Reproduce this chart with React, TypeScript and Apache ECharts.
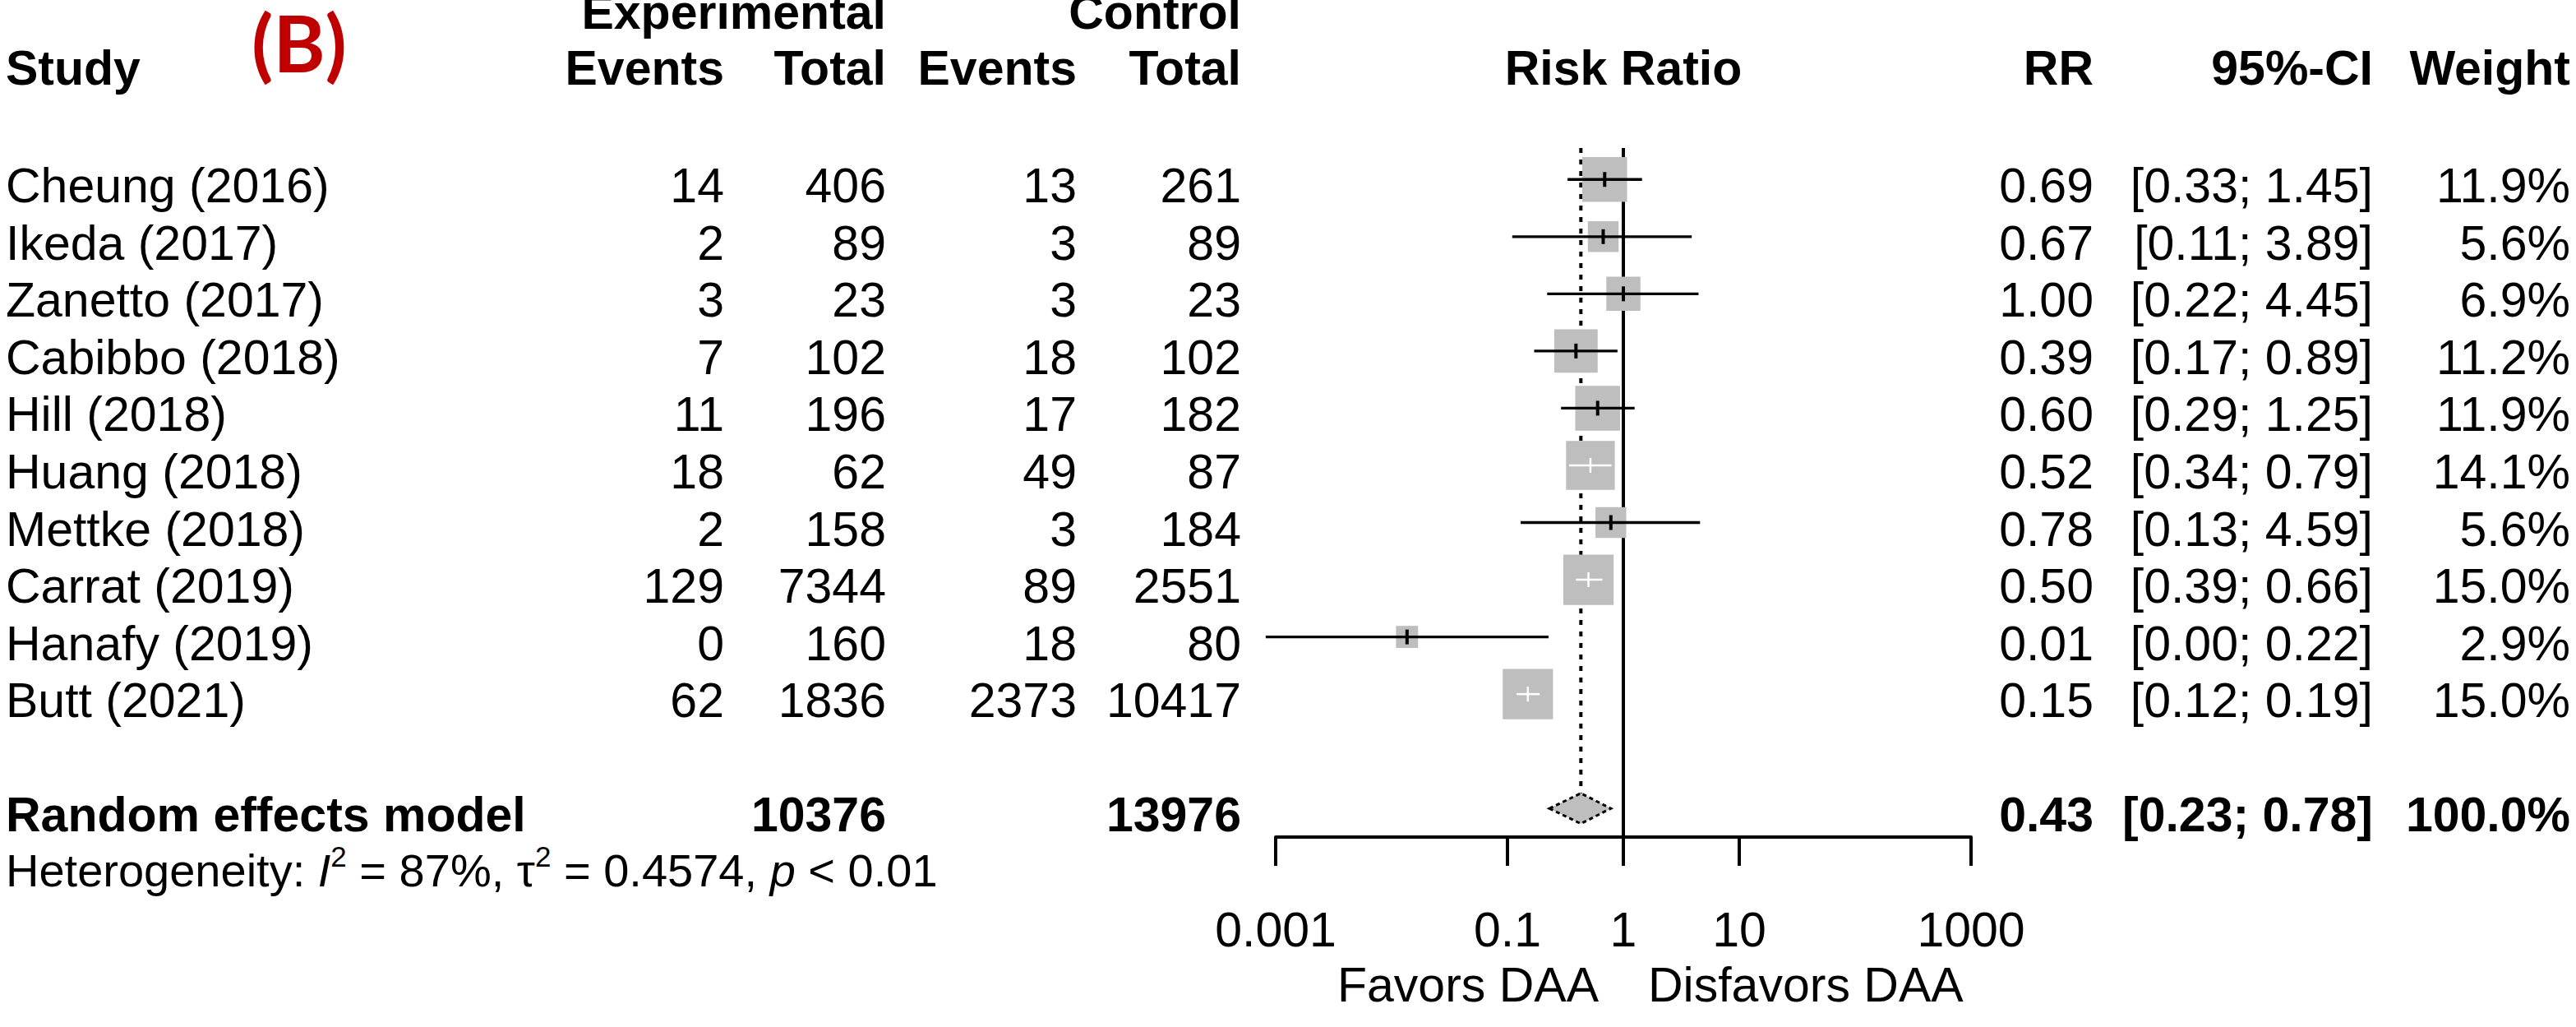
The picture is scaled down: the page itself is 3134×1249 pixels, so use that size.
import React, { useEffect, useRef } from 'react';
import * as echarts from 'echarts';

// ---------------- data ----------------
const studies = [
  'Cheung (2016)', 'Ikeda (2017)', 'Zanetto (2017)', 'Cabibbo (2018)', 'Hill (2018)',
  'Huang (2018)', 'Mettke (2018)', 'Carrat (2019)', 'Hanafy (2019)', 'Butt (2021)',
];
const expEvents = [14, 2, 3, 7, 11, 18, 2, 129, 0, 62];
const expTotal = [406, 89, 23, 102, 196, 62, 158, 7344, 160, 1836];
const ctrlEvents = [13, 3, 3, 18, 17, 49, 3, 89, 18, 2373];
const ctrlTotal = [261, 89, 23, 102, 182, 87, 184, 2551, 80, 10417];
const rrText = ['0.69', '0.67', '1.00', '0.39', '0.60', '0.52', '0.78', '0.50', '0.01', '0.15'];
const ciText = [
  '[0.33; 1.45]', '[0.11; 3.89]', '[0.22; 4.45]', '[0.17; 0.89]', '[0.29; 1.25]',
  '[0.34; 0.79]', '[0.13; 4.59]', '[0.39; 0.66]', '[0.00; 0.22]', '[0.12; 0.19]',
];
const weightText = ['11.9%', '5.6%', '6.9%', '11.2%', '11.9%', '14.1%', '5.6%', '15.0%', '2.9%', '15.0%'];

// plotted estimates
const rr = [0.69, 0.67, 1.0, 0.39, 0.6, 0.52, 0.78, 0.5, 0.0136, 0.15];
const lower = [0.33, 0.11, 0.22, 0.17, 0.29, 0.34, 0.13, 0.39, 0.00082, 0.12];
const upper = [1.45, 3.89, 4.45, 0.89, 1.25, 0.79, 4.59, 0.66, 0.226, 0.19];
const weights = [11.9, 5.6, 6.9, 11.2, 11.9, 14.1, 5.6, 15.0, 2.9, 15.0];

const pooled = { label: 'Random effects model', expTotal: '10376', ctrlTotal: '13976', rr: 0.43, lo: 0.23, hi: 0.78, rrText: '0.43', ciText: '[0.23; 0.78]', weight: '100.0%' };
const het = { i2: '87%', tau2: '0.4574', p: '< 0.01' };

const tickValues = [0.001, 0.1, 1, 10, 1000];
const tickLabels = ['0.001', '0.1', '1', '10', '1000'];
const refValue = 1;
const favorsLeft = 'Favors DAA';
const favorsRight = 'Disfavors DAA';

// ---------------- layout / style ----------------
const FONT = '"Liberation Sans", Arial, Helvetica, sans-serif';
const FS = 59;
const FS_HET = 56;
const COL = { study: 7, expEv: 881, expTot: 1078, ctrlEv: 1310, ctrlTot: 1510, rr: 2547, ci: 2887, w: 3127 };
const SUMMARY_ROW = 11;
const SQUARE_SCALE = 15.8;
const GREY = '#BEBEBE';

type Cell = { text: string; x: number | 'plot'; align: 'left' | 'right' | 'center'; bold?: boolean; rich?: boolean };
type Row = { row: number; cells: Cell[]; fs?: number };

const tableRows: Row[] = [];
tableRows.push({
  row: -3.04,
  cells: [
    { text: 'Experimental', x: COL.expTot, align: 'right', bold: true },
    { text: 'Control', x: COL.ctrlTot, align: 'right', bold: true },
  ],
});
tableRows.push({
  row: -2.06,
  cells: [
    { text: 'Study', x: COL.study, align: 'left', bold: true },
    { text: 'Events', x: COL.expEv, align: 'right', bold: true },
    { text: 'Total', x: COL.expTot, align: 'right', bold: true },
    { text: 'Events', x: COL.ctrlEv, align: 'right', bold: true },
    { text: 'Total', x: COL.ctrlTot, align: 'right', bold: true },
    { text: 'Risk Ratio', x: 'plot', align: 'center', bold: true },
    { text: 'RR', x: COL.rr, align: 'right', bold: true },
    { text: '95%-CI', x: COL.ci, align: 'right', bold: true },
    { text: 'Weight', x: COL.w, align: 'right', bold: true },
  ],
});
studies.forEach((s, i) => {
  tableRows.push({
    row: i,
    cells: [
      { text: s, x: COL.study, align: 'left' },
      { text: String(expEvents[i]), x: COL.expEv, align: 'right' },
      { text: String(expTotal[i]), x: COL.expTot, align: 'right' },
      { text: String(ctrlEvents[i]), x: COL.ctrlEv, align: 'right' },
      { text: String(ctrlTotal[i]), x: COL.ctrlTot, align: 'right' },
      { text: rrText[i], x: COL.rr, align: 'right' },
      { text: ciText[i], x: COL.ci, align: 'right' },
      { text: weightText[i], x: COL.w, align: 'right' },
    ],
  });
});
tableRows.push({
  row: SUMMARY_ROW,
  cells: [
    { text: pooled.label, x: COL.study, align: 'left', bold: true },
    { text: pooled.expTotal, x: COL.expTot, align: 'right', bold: true },
    { text: pooled.ctrlTotal, x: COL.ctrlTot, align: 'right', bold: true },
    { text: pooled.rrText, x: COL.rr, align: 'right', bold: true },
    { text: pooled.ciText, x: COL.ci, align: 'right', bold: true },
    { text: pooled.weight, x: COL.w, align: 'right', bold: true },
  ],
});
tableRows.push({
  row: 11.97,
  fs: FS_HET,
  cells: [
    {
      text:
        '{a|Heterogeneity: }{i|I}{s|2}{a| = ' + het.i2 + ', \u03c4}{s|2}{a| = ' + het.tau2 + ', }{i|p}{a| ' + het.p + '}',
      x: COL.study,
      align: 'left',
      rich: true,
    },
  ],
});

export default function App() {
  const ref = useRef<HTMLDivElement>(null);
  useEffect(() => {
    document.body.style.margin = '0';
    if (!ref.current) return;
    const chart = echarts.init(ref.current, undefined, { renderer: 'svg' });

    const option: any = {
      animation: false,
      backgroundColor: '#ffffff',
      grid: { left: 1552, width: 846, top: 180, height: 838 },
      xAxis: {
        type: 'log',
        logBase: 10,
        min: 0.001,
        max: 1000,
        splitLine: { show: false },
        axisLine: { show: true, onZero: false, lineStyle: { color: '#000', width: 4 } },
        axisTick: { show: true, length: 35, customValues: tickValues, lineStyle: { color: '#000', width: 4 } },
        axisLabel: {
          show: true,
          customValues: tickValues,
          margin: 113,
          verticalAlign: 'middle',
          color: '#000',
          fontSize: FS,
          fontFamily: FONT,
          formatter: (v: number) => {
            let best = 0;
            tickValues.forEach((t, k) => {
              if (Math.abs(Math.log10(t) - Math.log10(v)) < Math.abs(Math.log10(tickValues[best]) - Math.log10(v))) best = k;
            });
            return tickLabels[best];
          },
        },
      },
      yAxis: { type: 'value', inverse: true, min: -0.55, max: 11.5, show: false },
      graphic: [
        {
          type: 'text',
          x: 364,
          y: 50,
          style: {
            text: '(B)',
            fill: '#C00000',
            fontSize: 96,
            fontWeight: 'bold',
            fontFamily: 'Lato, "Open Sans", sans-serif',
            align: 'center',
            verticalAlign: 'middle',
          },
        },
      ],
      series: [
        // reference lines + direction labels
        {
          type: 'custom',
          z: 1,
          data: [[refValue, 0, 0], [pooled.rr, 0, 1]],
          renderItem: (params: any, api: any) => {
            const kind = params.dataIndex;
            const v = kind === 0 ? refValue : pooled.rr;
            const x = api.coord([v, 0])[0];
            const top = api.coord([v, -0.55])[1];
            if (kind === 0) {
              const bottom = api.coord([v, 11.5])[1];
              return {
                type: 'group',
                children: [
                  { type: 'line', shape: { x1: x, y1: top, x2: x, y2: bottom }, style: { stroke: '#000', lineWidth: 4 } },
                  {
                    type: 'text', x: x - 30, y: bottom + 180,
                    style: { text: favorsLeft, fill: '#000', fontSize: FS, fontFamily: FONT, align: 'right', verticalAlign: 'middle' },
                  },
                  {
                    type: 'text', x: x + 30, y: bottom + 180,
                    style: { text: favorsRight, fill: '#000', fontSize: FS, fontFamily: FONT, align: 'left', verticalAlign: 'middle' },
                  },
                ],
              };
            }
            const dTop = api.coord([v, SUMMARY_ROW])[1] - 18.5;
            return {
              type: 'line',
              shape: { x1: x, y1: top, x2: x, y2: dTop },
              style: { stroke: '#000', lineWidth: 4, lineDash: [6, 8] },
            };
          },
        },
        // squares
        {
          type: 'custom',
          z: 2,
          data: rr.map((v, i) => [v, i]),
          renderItem: (params: any, api: any) => {
            const i = params.dataIndex;
            const [cx, cy] = api.coord([rr[i], i]);
            const s = SQUARE_SCALE * Math.sqrt(weights[i]);
            return { type: 'rect', shape: { x: cx - s / 2, y: cy - s / 2, width: s, height: s }, style: { fill: GREY } };
          },
        },
        // confidence intervals
        {
          type: 'custom',
          z: 3,
          data: rr.map((v, i) => [v, i]),
          renderItem: (params: any, api: any) => {
            const i = params.dataIndex;
            const [cx, cy] = api.coord([rr[i], i]);
            const xl = api.coord([lower[i], i])[0];
            const xh = api.coord([upper[i], i])[0];
            const s = SQUARE_SCALE * Math.sqrt(weights[i]);
            const inside = xl >= cx - s / 2 && xh <= cx + s / 2;
            const color = inside ? '#ffffff' : '#000000';
            return {
              type: 'group',
              children: [
                { type: 'line', shape: { x1: xl, y1: cy, x2: xh, y2: cy }, style: { stroke: color, lineWidth: inside ? 2.5 : 3.3 } },
                { type: 'line', shape: { x1: cx, y1: cy - 9, x2: cx, y2: cy + 9 }, style: { stroke: color, lineWidth: inside ? 2.5 : 4 } },
              ],
            };
          },
        },
        // pooled diamond
        {
          type: 'custom',
          z: 4,
          data: [[pooled.rr, SUMMARY_ROW]],
          renderItem: (params: any, api: any) => {
            const [xc, cy] = api.coord([pooled.rr, SUMMARY_ROW]);
            const xl = api.coord([pooled.lo, SUMMARY_ROW])[0];
            const xh = api.coord([pooled.hi, SUMMARY_ROW])[0];
            return {
              type: 'polygon',
              shape: { points: [[xl, cy], [xc, cy - 18.5], [xh, cy], [xc, cy + 18.5]] },
              style: { fill: GREY, stroke: '#000', lineWidth: 3, lineDash: [5, 4] },
            };
          },
        },
        // table text
        {
          type: 'custom',
          z: 5,
          data: tableRows.map((r) => [1, r.row]),
          renderItem: (params: any, api: any) => {
            const r = tableRows[params.dataIndex];
            const fs = r.fs || FS;
            const y = api.coord([1, r.row])[1] + 8;
            const plotC = (api.coord([0.001, 0])[0] + api.coord([1000, 0])[0]) / 2;
            return {
              type: 'group',
              children: r.cells.map((c) => {
                const x = c.x === 'plot' ? plotC : c.x;
                if (c.rich) {
                  const base = { fontSize: fs, fontFamily: FONT, fill: '#000', lineHeight: 70 };
                  return {
                    type: 'text',
                    x,
                    y,
                    style: {
                      text: c.text,
                      fontSize: fs,
                      fontFamily: FONT,
                      fill: '#000',
                      align: 'left',
                      verticalAlign: 'middle',
                      rich: {
                        a: base,
                        i: { ...base, fontStyle: 'italic' },
                        s: { fontSize: 35, fontFamily: FONT, fill: '#000', lineHeight: 35, verticalAlign: 'top' },
                      },
                    },
                  };
                }
                return {
                  type: 'text',
                  x,
                  y,
                  style: {
                    text: c.text,
                    fill: '#000',
                    fontSize: fs,
                    fontFamily: FONT,
                    fontWeight: c.bold ? 'bold' : 'normal',
                    align: c.align,
                    verticalAlign: 'middle',
                  },
                };
              }),
            };
          },
        },
      ],
    };

    chart.setOption(option);
    return () => chart.dispose();
  }, []);
  return <div ref={ref} style={{ width: 3134, height: 1249 }} />;
}
